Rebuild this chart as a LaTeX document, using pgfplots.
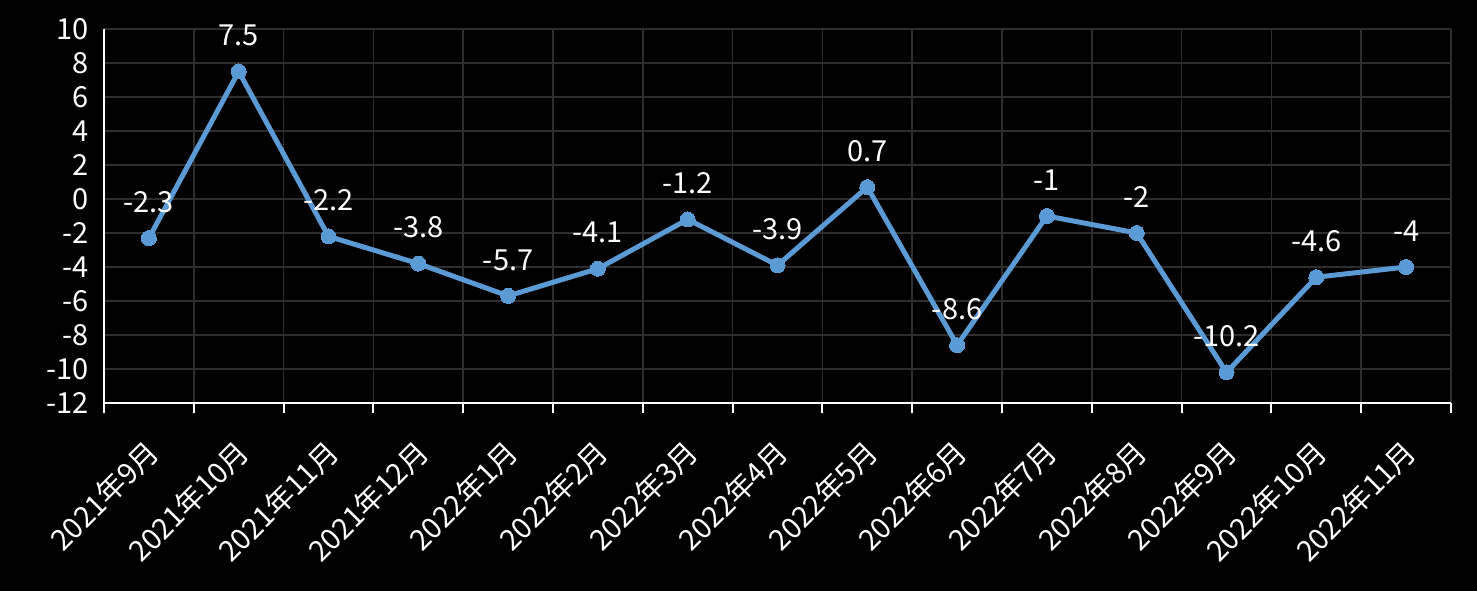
\documentclass[border=0pt]{standalone}
\usepackage{pgfplots}
\pgfplotsset{compat=1.18}
\usepackage{fontspec}
\setmainfont{Noto Sans CJK SC}
\definecolor{lineblue}{HTML}{5B9BD5}
\definecolor{gridgray}{HTML}{2E2E2E}
\begin{document}
\begin{tikzpicture}
\path[fill=black,use as bounding box] (0,0) rectangle (1477bp,591bp);
\begin{axis}[
  at={(104bp,188bp)}, anchor=south west,
  scale only axis, width=1347bp, height=374bp,
  xmin=0.5, xmax=15.5, ymin=-12, ymax=10,
  ytick={-12,-10,...,10},
  xtick={1,...,15},
  xticklabels={2021年9月,2021年10月,2021年11月,2021年12月,2022年1月,2022年2月,2022年3月,2022年4月,2022年5月,2022年6月,2022年7月,2022年8月,2022年9月,2022年10月,2022年11月},
  minor xtick={0.5,1.5,...,15.5},
  axis x line=bottom, axis y line=left,
  axis line style={-, white, line width=2bp},
  major tick length=0pt, minor tick length=10bp,
  tick align=outside,
  minor tick style={white, line width=2bp},
  xminorgrids=true, ymajorgrids=true,
  grid style={gridgray, line width=1.5bp},
  minor grid style={gridgray, line width=1.5bp},
  /pgf/number format/assume math mode=true,
  tick label style={white, font=\fontsize{29bp}{33bp}\selectfont},
  yticklabel style={xshift=-12bp},
  xticklabel style={xshift=-5bp, yshift=-34bp, rotate=45, anchor=north east, inner sep=0pt},
  nodes near coords,
  nodes near coords style={white, font=\fontsize{29bp}{33bp}\selectfont, anchor=center, yshift=36bp,
    /pgf/number format/assume math mode=true},
  point meta=explicit symbolic,
]
\addplot[color=lineblue, line width=5bp, mark=*, mark size=7.5bp,
  mark options={fill=lineblue, draw=lineblue, line width=0pt}]
  table[meta=label] {
    x  y     label
    1  -2.3  -2.3
    2  7.5   7.5
    3  -2.2  -2.2
    4  -3.8  -3.8
    5  -5.7  -5.7
    6  -4.1  -4.1
    7  -1.2  -1.2
    8  -3.9  -3.9
    9  0.7   0.7
    10 -8.6  -8.6
    11 -1    -1
    12 -2    -2
    13 -10.2 -10.2
    14 -4.6  -4.6
    15 -4    -4
  };
\end{axis}
\end{tikzpicture}
\end{document}
